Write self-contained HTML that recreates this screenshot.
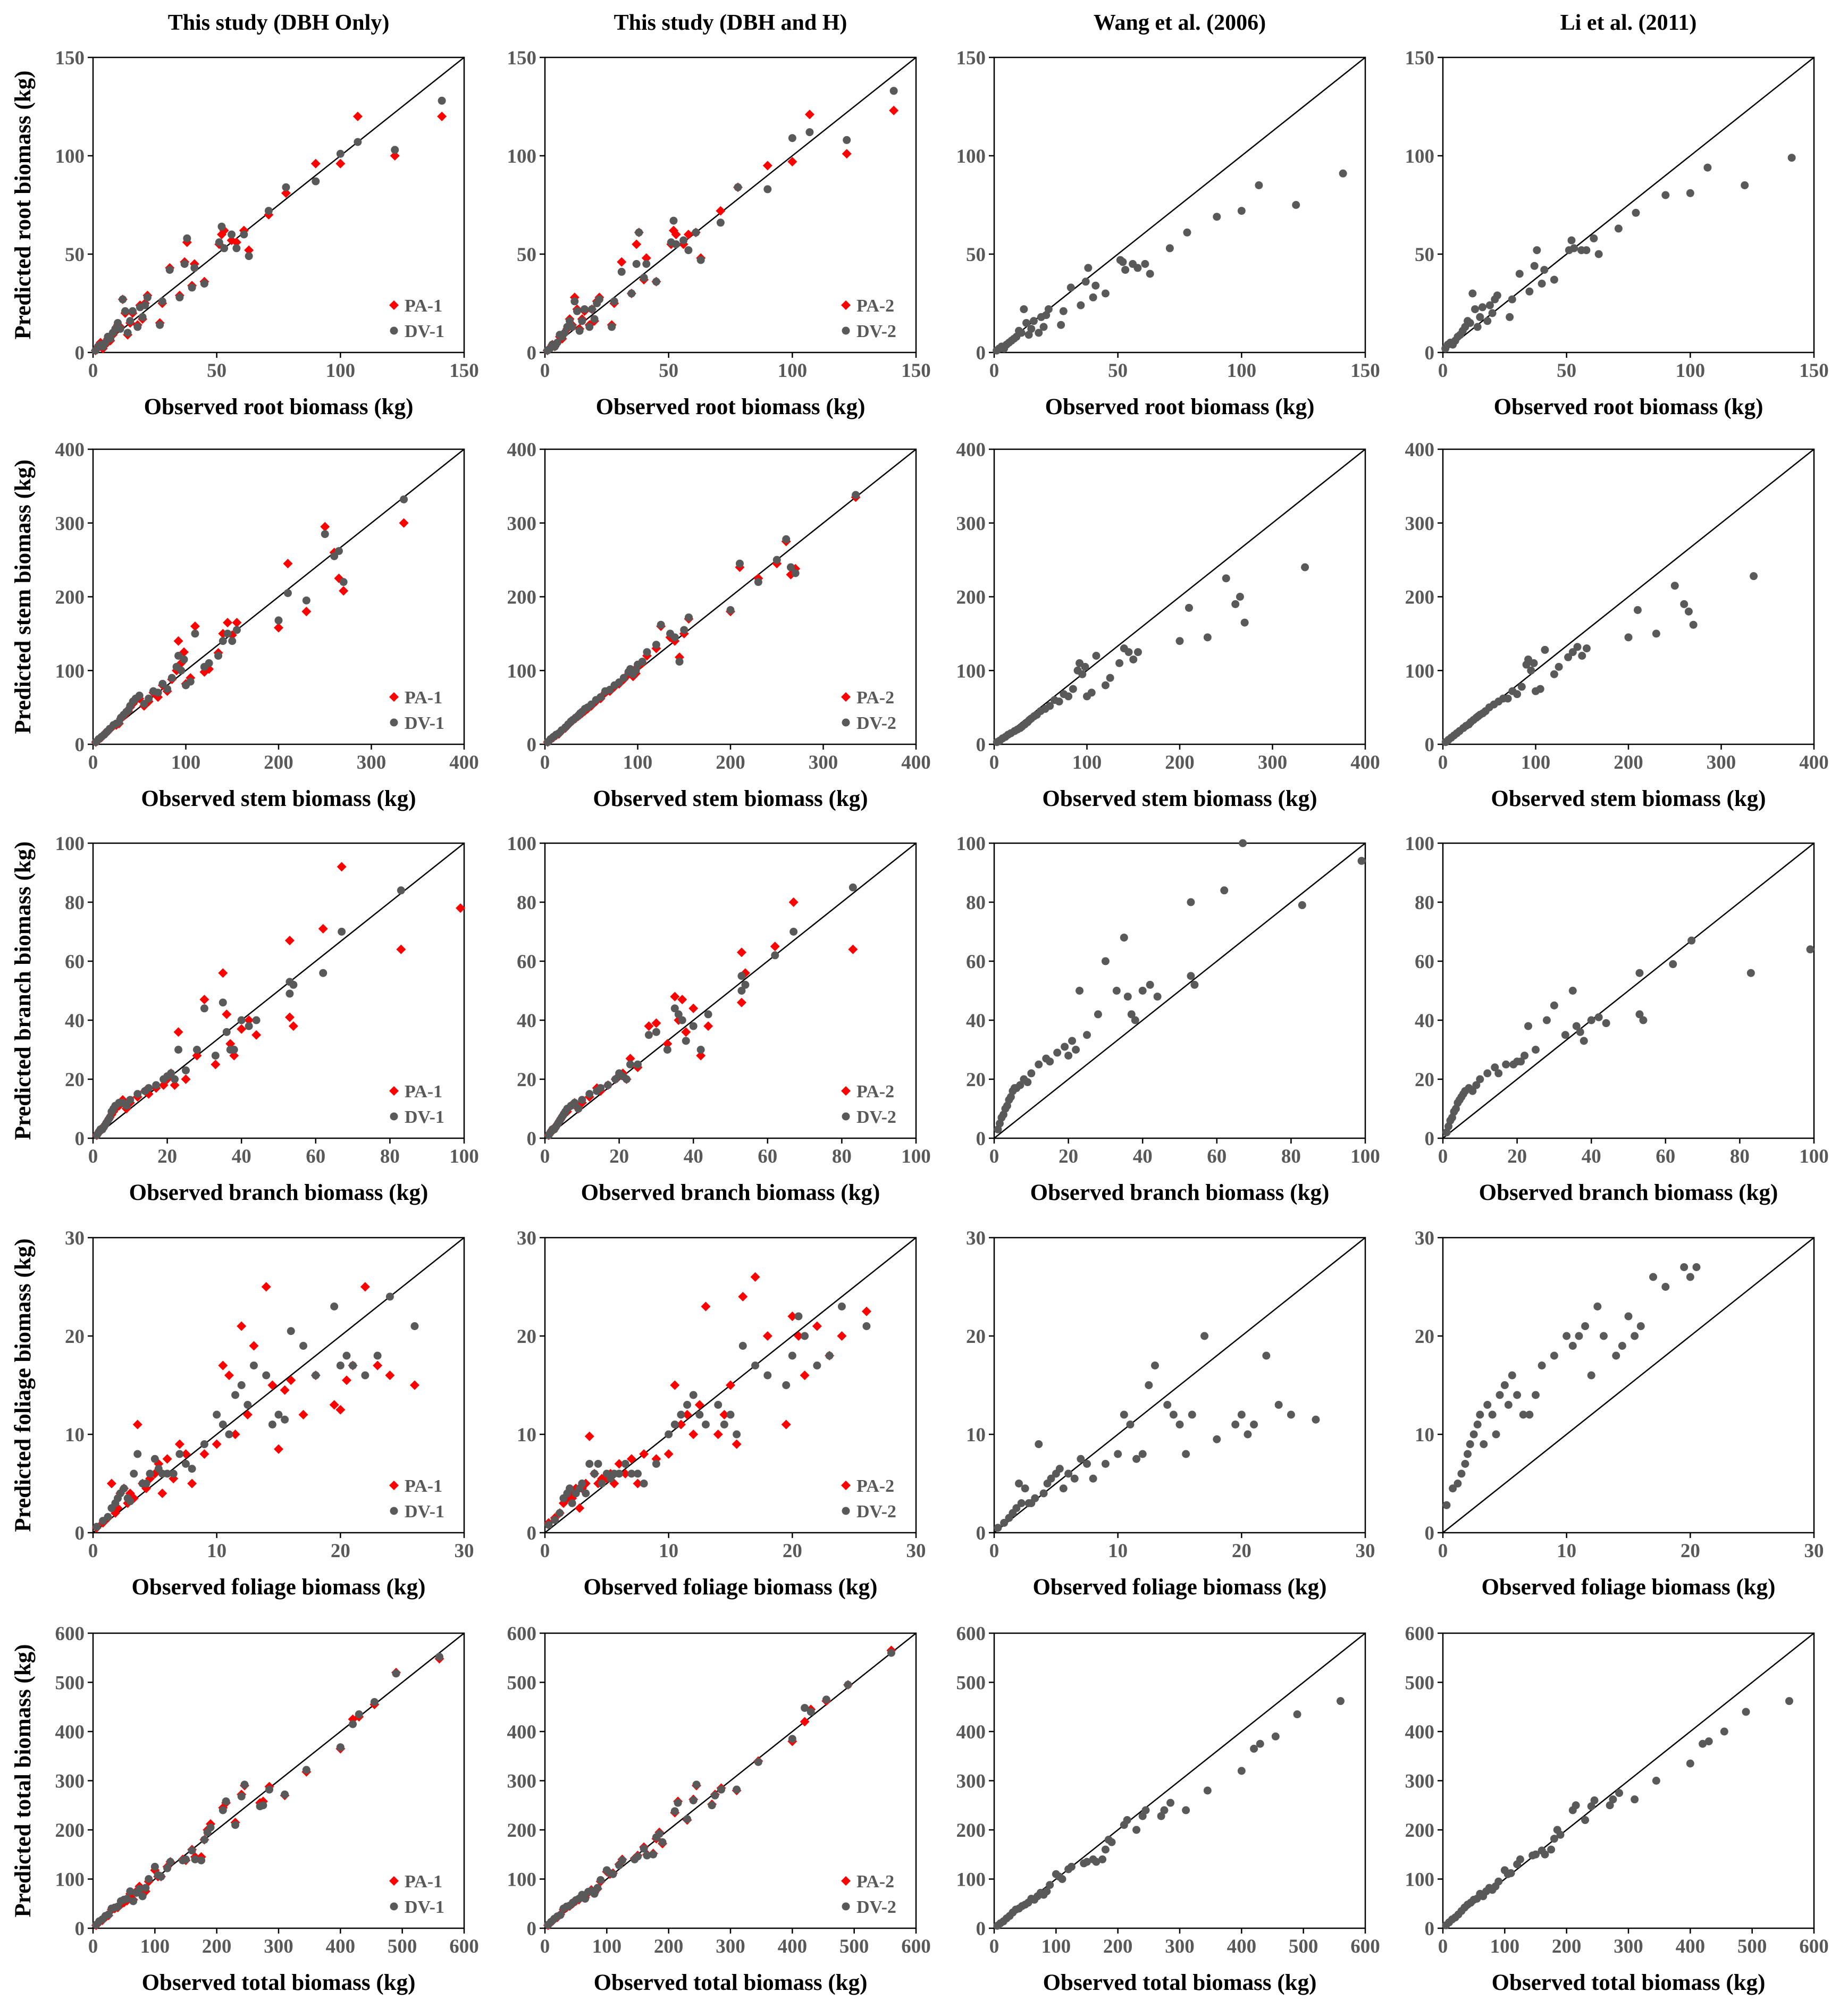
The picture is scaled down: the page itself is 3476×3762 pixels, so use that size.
<!DOCTYPE html>
<html><head><meta charset="utf-8"><style>
html,body{margin:0;padding:0;background:#fff}
svg{display:block;font-family:"Liberation Serif",serif;font-weight:bold}
</style></head><body>
<svg id="fig" width="3476" height="3762" viewBox="0 0 3476 3762" xmlns="http://www.w3.org/2000/svg"></svg>
<script>
// ---- Data (observed vs predicted, kg) ----
const rootObs=[1,2,3,4,5,6,7,8,9,10,11,12,13,14,15,16,18,19,20,21,22,27,28,31,35,37,38,40,41,45,51,52,53,56,58,61,63,71,78,90,100,107,122,141];
const rootPA1=[1,3,5,2,4,7,6,9,11,14,13,27,20,9,15,20,14,24,17,25,29,15,25,43,29,46,56,34,45,36,55,60,62,57,56,62,52,70,81,96,96,120,100,120];
const rootDV1=[1,3,4,3,5,8,7,10,12,15,12,27,21,10,16,21,13,23,18,24,28,14,26,42,28,45,58,33,43,35,56,64,53,60,53,60,49,72,84,87,101,107,103,128];
const rootPA2=[1,2,4,3,5,8,7,10,12,17,14,28,22,12,17,21,14,22,16,26,28,14,25,46,30,55,61,37,48,36,55,62,60,55,60,61,48,72,84,95,97,121,101,123];
const rootDV2=[1,2,4,3,5,9,8,10,13,16,13,26,21,11,16,22,13,22,17,25,27,13,26,41,30,45,61,38,45,36,56,67,55,57,52,61,47,66,84,83,109,112,108,133];
const rootWang=[1,2,3,2,4,5,6,7,8,11,10,22,15,9,12,16,10,18,13,19,22,14,21,33,24,36,43,28,34,30,47,46,42,45,43,45,40,53,61,69,72,85,75,91];
const rootLi=[2,4,5,4,6,8,9,11,13,16,15,30,22,13,18,23,16,24,20,27,29,18,27,40,31,44,52,35,42,37,52,57,53,52,52,58,50,63,71,80,81,94,85,99];

const stemObs=[3,6,9,12,15,18,22,25,28,30,33,36,38,40,43,46,50,55,60,65,70,75,80,85,90,92,95,98,100,105,110,120,125,135,140,145,150,155,200,210,230,250,260,265,270,335];
const stemPA1=[3,6,9,14,16,20,25,26,28,35,38,42,45,50,55,60,62,52,58,70,64,80,72,88,100,140,110,125,82,90,160,98,102,124,150,165,148,165,158,245,180,295,260,225,208,300];
const stemDV1=[3,7,10,13,17,21,26,28,30,36,40,44,46,52,58,62,66,55,62,72,70,82,75,90,105,120,100,115,80,85,150,105,110,120,140,150,140,155,168,205,195,285,255,262,220,332];
const stemPA2=[3,6,9,12,14,18,22,26,30,32,35,38,40,42,45,48,52,58,62,70,72,78,82,88,95,100,92,96,105,110,120,130,160,145,140,118,150,170,180,240,225,245,275,230,238,335];
const stemDV2=[3,7,10,13,15,19,23,27,31,33,36,39,42,44,48,50,54,60,64,72,74,80,84,90,98,102,95,100,108,112,125,135,162,150,145,112,155,172,182,245,220,250,278,240,232,338];
const stemWang=[3,5,8,10,13,15,18,20,22,24,27,30,33,35,38,40,45,48,52,60,58,68,65,75,100,110,95,105,65,70,120,80,90,110,130,125,115,125,140,185,145,225,190,200,165,240];
const stemLi=[3,6,9,12,15,18,22,25,27,30,33,36,38,40,42,45,50,54,58,62,62,72,68,78,108,115,100,110,72,75,128,95,105,118,125,132,120,130,145,182,150,215,190,180,162,228];

const branchObs=[1,1.5,2,2.5,3,3.5,4,4.5,5,5.5,6,7,8,9,10,12,14,15,17,19,20,21,22,23,25,28,30,33,35,36,37,38,40,42,44,53,53,54,62,67,83,99];
const branchPA1=[1,2,3,3,4,5,6,7,8,9,10,11,13,10,12,14,16,15,17,18,20,22,18,36,20,28,47,25,56,42,32,28,37,40,35,67,41,38,71,92,64,78];
const branchDV1=[1,2,3,3,4,5,6,7,9,10,11,12,12,11,13,15,16,17,18,20,21,22,20,30,23,30,44,28,46,36,30,30,40,38,40,53,49,52,56,70,84,null];
const branchPA2=[1,2,3,3,4,5,6,7,8,9,9,11,12,10,12,14,17,16,18,20,21,22,20,27,24,38,39,32,48,40,47,36,44,28,38,63,46,56,65,80,64,null];
const branchDV2=[1,2,3,3,4,5,6,7,8,9,10,11,12,10,13,15,16,17,18,20,22,21,20,25,25,35,36,30,44,42,40,33,38,30,42,55,50,52,62,70,85,null];
const branchWang=[3,5,7,8,10,11,13,14,16,17,17,18,20,19,22,25,27,26,29,31,28,33,30,50,35,42,60,50,68,48,42,40,50,52,48,80,55,52,84,100,79,94];
const branchLi=[2,4,6,7,9,10,12,13,14,15,16,17,16,18,20,22,24,22,25,25,26,26,28,38,30,40,45,35,50,38,36,33,40,41,39,56,42,40,59,67,56,64];

const foliageObs=[0.3,0.8,1.2,1.5,1.8,2,2.2,2.5,2.8,3,3.3,3.6,4,4.3,4.6,5,5.3,5.6,6,6.5,7,7.5,8,9,10,10.5,11,11.5,12,12.5,13,14,14.5,15,15.5,16,17,18,19.5,20,20.5,21,22,23,24,26];
const foliagePA1=[0.5,1,1.5,5,2,2.5,4,4.5,3,4,3.5,11,5,4.5,5.5,6,7,4,7.5,5.5,9,8,5,8,9,17,16,10,21,12,19,25,15,8.5,14.5,15.5,12,16,13,12.5,15.5,17,25,17,16,15];
const foliageDV1=[0.6,1.2,1.6,2.5,3,3.5,4,4.5,3.5,3.2,6,8,5,5,6,7.5,6.5,6,6,6,8,7,6.5,9,12,11,10,14,15,13,17,16,11,12,11.5,20.5,19,16,23,17,18,17,16,18,24,21];
const foliagePA2=[1,1.5,2,3,3.5,4,3.5,4.5,2.5,4.5,5,9.8,6,5,5.5,5.5,6,5,7,6,7.5,5,8,7.5,8,15,11,12,10,13,23,10,12,15,9,24,26,20,11,22,20,16,21,18,20,22.5];
const foliageDV2=[0.8,1.3,2,3.5,4,4.5,3,4,4.5,5,4,7,6,7,5,6,5.5,6,6,7,6,6,5,7,10,11,12,13,14,12,11,13,11,12,10,19,17,16,15,18,22,20,17,18,23,21];
const foliageWang=[0.5,1,1.5,2,2.5,5,3,4.5,3,3,3.5,9,4,5,5.5,6,6.5,4.5,6,5.5,7.5,7,5.5,7,8,12,11,7.5,8,15,17,13,12,11,8,12,20,9.5,11,12,10,11,18,13,12,11.5];
const foliageLi=[2.8,4.5,5,6,7,8,9,10,11,12,9,13,12,10,14,15,13,16,14,12,12,14,17,18,20,19,20,21,16,23,20,18,19,22,20,21,26,25,27,26,27,null,null,null,null,null];

const totalObs=[5,10,15,20,25,30,35,40,45,50,55,60,65,70,75,80,85,90,100,105,110,120,125,145,150,160,165,175,180,185,190,210,215,230,240,245,270,275,285,310,345,400,420,430,455,490,560];
const totalPA1=[6,12,16,22,26,38,40,42,48,52,56,70,58,75,85,68,75,95,118,105,105,125,135,140,138,160,145,145,180,200,212,245,255,215,272,290,255,258,288,270,318,365,425,430,455,520,548];
const totalDV1=[7,14,18,25,28,40,42,44,55,58,60,75,55,72,80,65,82,100,125,108,105,122,135,138,140,158,140,138,180,195,205,240,258,210,268,292,248,250,282,272,322,368,415,435,460,518,552];
const totalPA2=[6,12,18,22,28,38,42,45,50,55,58,66,62,72,78,72,80,95,115,110,112,130,140,142,148,165,150,152,182,195,172,235,258,220,262,290,252,272,285,280,340,380,420,445,462,495,565];
const totalDV2=[7,13,19,24,27,40,44,46,52,57,60,68,60,74,76,70,82,98,118,112,110,128,138,140,146,162,148,150,185,192,175,238,255,222,260,292,250,270,282,282,338,385,448,440,465,495,560];
const totalWang=[5,10,14,20,25,32,38,40,45,48,52,60,58,65,72,68,75,88,110,105,100,120,125,132,135,140,135,140,160,180,175,210,220,200,228,240,228,240,255,240,280,320,365,375,390,435,462];
const totalLi=[6,12,18,22,28,35,42,48,52,58,60,70,65,75,82,78,85,95,118,110,112,130,140,148,150,158,150,160,182,200,190,240,250,220,248,260,250,262,275,262,300,335,375,380,400,440,462];

const colTitles=["This study (DBH Only)","This study (DBH and H)","Wang et al. (2006)","Li et al. (2011)"];
const rowNames=["root","stem","branch","foliage","total"];
const rowMax=[150,400,100,30,600];
const rowTicks=[[0,50,100,150],[0,100,200,300,400],[0,20,40,60,80,100],[0,10,20,30],[0,100,200,300,400,500,600]];
const xTitles=["Observed root biomass (kg)","Observed stem biomass (kg)","Observed branch biomass (kg)","Observed foliage biomass (kg)","Observed total biomass (kg)"];
const xTitlesWang=["Observed root biomass (kg)","Observed stem biomass (kg)","Observed branch biomass  (kg)","Observed foliage biomass (kg)","Observed total biomass (kg)"];
const yTitles=["Predicted root biomass (kg)","Predicted stem biomass (kg)","Predicted branch biomass (kg)","Predicted foliage biomass (kg)","Predicted total biomass (kg)"];
const obsRows=[rootObs,stemObs,branchObs,foliageObs,totalObs];
const paRows=[[rootPA1,rootPA2],[stemPA1,stemPA2],[branchPA1,branchPA2],[foliagePA1,foliagePA2],[totalPA1,totalPA2]];
const dvRows=[[rootDV1,rootDV2,rootWang,rootLi],[stemDV1,stemDV2,stemWang,stemLi],[branchDV1,branchDV2,branchWang,branchLi],[foliageDV1,foliageDV2,foliageWang,foliageLi],[totalDV1,totalDV2,totalWang,totalLi]];

// ---- Layout ----
const NS="http://www.w3.org/2000/svg";
const svg=document.getElementById('fig');
const colLeft=[175,1025,1870,2714];
const rowTop=[108,845,1586,2328,3072];
const PW=698, PH=555;
const GRAY="#595959";
function mk(tag,attrs,parent){const e=document.createElementNS(NS,tag);for(const k in attrs)e.setAttribute(k,attrs[k]);(parent||svg).appendChild(e);return e;}

colTitles.forEach((t,c)=>{
  const e=mk('text',{x:colLeft[c]+PW/2,y:56,'text-anchor':'middle','font-size':42,fill:'#000'});
  
  
  e.textContent=t;
});

for(let r=0;r<5;r++){
  for(let c=0;c<4;c++){
    const L=colLeft[c],T=rowTop[r],max=rowMax[r];
    const xs=v=>L+v/max*PW, ys=v=>T+PH-v/max*PH;
    const g=mk('g',{});
    
    
    // frame
    const fr=mk('rect',{x:L,y:T,width:PW,height:PH,fill:'none',stroke:'#000','stroke-width':2.5},g);
    
    
    // ticks
    rowTicks[r].forEach(v=>{
      mk('line',{x1:L-10,x2:L,y1:ys(v),y2:ys(v),stroke:'#000','stroke-width':2.5},g);
      mk('line',{x1:xs(v),x2:xs(v),y1:T+PH,y2:T+PH+10,stroke:'#000','stroke-width':2.5},g);
      const yl=mk('text',{x:L-16,y:ys(v)+13,'text-anchor':'end','font-size':37,fill:GRAY},g);
      
      
      yl.textContent=v;
      const xl=mk('text',{x:xs(v),y:T+PH+46,'text-anchor':'middle','font-size':37,fill:GRAY},g);
      
      
      xl.textContent=v;
    });
    // 1:1 line
    const ln=mk('line',{x1:xs(0),y1:ys(0),x2:xs(max),y2:ys(max),stroke:'#000','stroke-width':2.5},g);
    
    
    const obs=obsRows[r];
    if(c<2){
      const pa=paRows[r][c];
      obs.forEach((o,i)=>{
        if(pa[i]==null)return;
        const x=xs(o),y=ys(pa[i]);
        const d=mk('polygon',{points:`${x},${y-9} ${x+9},${y} ${x},${y+9} ${x-9},${y}`,fill:'#ff0000'},g);
        
        
      });
    }
    const dv=dvRows[r][c];
    obs.forEach((o,i)=>{
      if(dv[i]==null)return;
      const p=mk('circle',{cx:xs(o),cy:ys(dv[i]),r:7.5,fill:GRAY},g);
      
      
    });
    if(c<2){
      const lx=L+566, ly1=T+466, ly2=T+514;
      const ld=mk('polygon',{points:`${lx},${ly1-9} ${lx+9},${ly1} ${lx},${ly1+9} ${lx-9},${ly1}`,fill:'#ff0000'},g);
      
      
      const lt=mk('text',{x:lx+20,y:ly1+12,'font-size':34,fill:GRAY},g);
      
      
      lt.textContent='PA-'+(c+1);
      const lc=mk('circle',{cx:lx,cy:ly2,r:7.5,fill:GRAY},g);
      
      
      const lt2=mk('text',{x:lx+20,y:ly2+12,'font-size':34,fill:GRAY},g);
      
      
      lt2.textContent='DV-'+(c+1);
    }
    const xt=mk('text',{x:L+PW/2,y:T+PH+116,'text-anchor':'middle','font-size':43,fill:'#000'},g);
    
    
    xt.textContent=(c==2?xTitlesWang:xTitles)[r];
    if(c==0){
      const cy=T+PH/2;
      const yt=mk('text',{x:57,y:cy,'text-anchor':'middle','font-size':43,fill:'#000',transform:`rotate(-90 57 ${cy})`},g);
      
      
      yt.textContent=yTitles[r];
    }
  }
}
</script>
</body></html>
